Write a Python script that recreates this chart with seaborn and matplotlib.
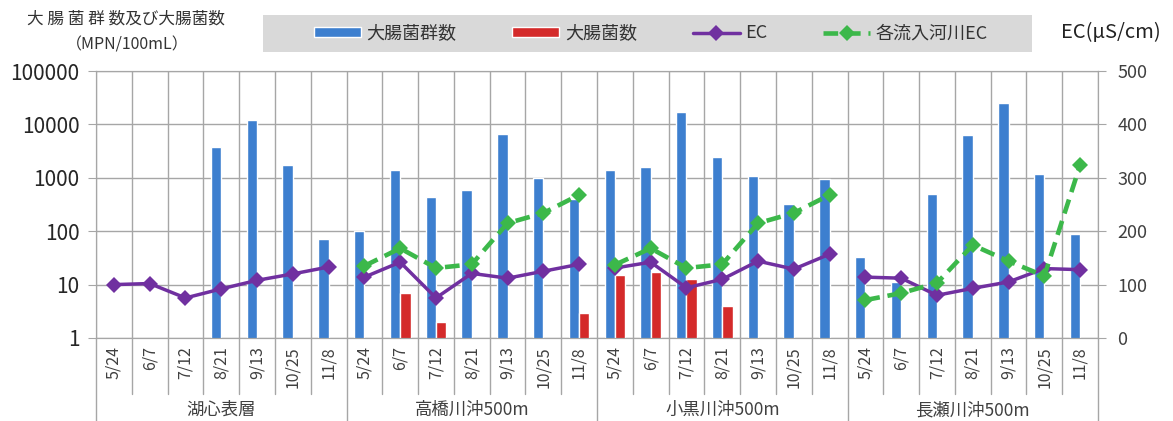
import numpy as np
import pandas as pd
import matplotlib.pyplot as plt
import seaborn as sns
from matplotlib.patches import Patch, Rectangle
from matplotlib.lines import Line2D
from matplotlib.ticker import FixedLocator, NullLocator, FuncFormatter

## data
dates = ['5/24', '6/7', '7/12', '8/21', '9/13', '10/25', '11/8']
sites = ['湖心表層', '高橋川沖500m', '小黒川沖500m', '長瀬川沖500m']
nan = np.nan

# 大腸菌群数 (MPN/100mL)
coliform = [
    [nan, nan, nan, 3800, 12000, 1700, 70],
    [100, 1400, 430, 600, 6500, 1000, 400],
    [1400, 1600, 17000, 2400, 1100, 320, 960],
    [33, 11, 500, 6200, 25000, 1200, 90],
]
# 大腸菌数 (MPN/100mL)
ecoli = [
    [nan, nan, nan, nan, nan, nan, nan],
    [nan, 7, 2, nan, nan, nan, 3],
    [15, 17, 13, 4, nan, nan, nan],
    [nan, nan, nan, nan, nan, nan, nan],
]
# EC (uS/cm)
ec = [
    [100, 102, 75, 92, 108, 120, 133],
    [114, 142, 75, 121, 112, 125, 138],
    [131, 142, 94, 110, 144, 129, 157],
    [114, 112, 80, 93, 105, 130, 128],
]
# 各流入河川EC (uS/cm)
river_ec = [
    [nan, nan, nan, nan, nan, nan, nan],
    [135, 168, 131, 138, 215, 234, 268],
    [137, 168, 131, 138, 215, 234, 268],
    [71, 84, 103, 174, 144, 116, 324],
]

c_blue = '#3d7fcf'
c_red = '#d42a2a'
c_purple = '#7030a0'
c_green = '#3cb84a'
c_grid = '#a6a6a6'

sns.set_style('white')
plt.rcParams['font.family'] = ['Noto Sans CJK JP', 'DejaVu Sans']

rows = []
for i, site in enumerate(sites):
    for j, d in enumerate(dates):
        pos = site + '_' + d
        rows.append(dict(pos=pos, series='大腸菌群数', value=coliform[i][j]))
        rows.append(dict(pos=pos, series='大腸菌数', value=ecoli[i][j]))
bars = pd.DataFrame(rows)
order = [s + '_' + d for s in sites for d in dates]
n = len(order)

fig = plt.figure(figsize=(11.73, 4.21), dpi=100)
ax = fig.add_axes([96 / 1173, 1 - 338 / 421, 1002 / 1173, 267 / 421])

sns.barplot(data=bars, x='pos', y='value', hue='series', order=order,
            hue_order=['大腸菌群数', '大腸菌数'],
            palette={'大腸菌群数': c_blue, '大腸菌数': c_red},
            width=0.58, saturation=1, errorbar=None, legend=False, ax=ax)
ax.set_yscale('log')

ax.set_ylim(1, 100000)
ax.set_xlim(-0.5, n - 0.5)
ax.yaxis.set_major_locator(FixedLocator([1, 10, 100, 1000, 10000, 100000]))
ax.yaxis.set_minor_locator(NullLocator())
ax.yaxis.set_major_formatter(FuncFormatter(lambda v, p: '%d' % v))
ax.set_xticks(range(n))
ax.set_xticklabels(dates * len(sites), rotation=90, fontsize=11.5, color='#404040')
ax.set_xticks(np.arange(-0.5, n, 1), minor=True)
ax.tick_params(axis='x', which='both', length=0, pad=6)
ax.tick_params(axis='y', length=6, color=c_grid, labelsize=15, labelcolor='#262626', pad=6)
ax.set_xlabel('')
ax.set_ylabel('')
ax.set_axisbelow(True)
ax.grid(True, which='major', axis='y', color=c_grid, lw=1)
ax.grid(True, which='minor', axis='x', color=c_grid, lw=1)
for sp in ax.spines.values():
    sp.set_color(c_grid)

# separators under the axis
trans = ax.get_xaxis_transform()
for k in range(n + 1):
    x = k - 0.5
    depth = -0.31 if k % 7 == 0 else -0.21
    ax.plot([x, x], [0, depth], color=c_grid, lw=1, transform=trans, clip_on=False)
for i, site in enumerate(sites):
    ax.text(i * 7 + 3, -0.27, site, transform=trans, ha='center', va='center',
            fontsize=12.5, color='#404040')

## EC on the right axis
ax2 = ax.twinx()
for i in range(len(sites)):
    xs = np.arange(7) + 7 * i
    sns.lineplot(x=xs, y=ec[i], ax=ax2, color=c_purple, lw=2.5, marker='D',
                 markersize=8.5, markeredgewidth=0)
    if not np.all(np.isnan(river_ec[i])):
        sns.lineplot(x=xs, y=river_ec[i], ax=ax2, color=c_green, lw=3.3,
                     linestyle=(0, (3.2, 1.7)), marker='D', markersize=8.5,
                     markeredgewidth=0)
ax2.set_ylim(0, 500)
ax2.set_yticks(range(0, 501, 100))
ax2.tick_params(axis='y', length=6, color=c_grid, labelsize=13, labelcolor='#404040', pad=8)
ax2.grid(False)
for sp in ax2.spines.values():
    sp.set_color(c_grid)
ax2.set_xlim(-0.5, n - 0.5)

## titles
fig.text(27 / 1173, 1 - 19 / 421, '大 腸 菌 群 数及び大腸菌数', fontsize=12,
         color='#333333', va='center', ha='left')
fig.text(66 / 1173, 1 - 45 / 421, '（MPN/100mL）', fontsize=11.5,
         color='#333333', va='center', ha='left')
fig.text(1111 / 1173, 1 - 32 / 421, 'EC(µS/cm)', fontsize=14.5,
         color='#222222', va='center', ha='center')

## legend
fig.patches.append(Rectangle((263 / 1173, 1 - 52 / 421), 769 / 1173, 37 / 421,
                             transform=fig.transFigure, facecolor='#d9d9d9',
                             edgecolor='none', zorder=0))
handles = [
    Patch(facecolor=c_blue),
    Patch(facecolor=c_red),
    Line2D([], [], color=c_purple, lw=2.5, marker='D', markersize=8.5, markeredgewidth=0),
    Line2D([], [], color=c_green, lw=3.3, linestyle=(0, (3.2, 1.7)), marker='D',
           markersize=8.5, markeredgewidth=0),
]
labels = ['大腸菌群数', '大腸菌数', 'EC', '各流入河川EC']
leg = fig.legend(handles, labels, ncol=4, loc='center',
                 bbox_to_anchor=(651 / 1173, 1 - 33.5 / 421),
                 frameon=False, fontsize=13, handlelength=2.6, handleheight=0.5,
                 handletextpad=0.3, columnspacing=3.1)
for t in leg.get_texts():
    t.set_color('#333333')

fig.savefig('out.png', dpi=100)
